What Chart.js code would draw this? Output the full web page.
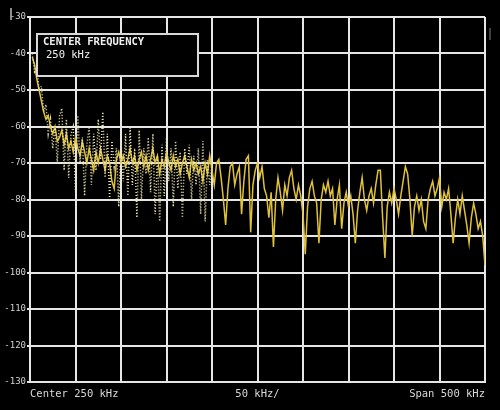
<!DOCTYPE html>
<html>
<head>
<meta charset="utf-8">
<script src="https://cdn.jsdelivr.net/npm/chart.js@4.4.1/dist/chart.umd.min.js"></script>
<style>
  html, body { margin: 0; padding: 0; background: #000; }
  #spectrum { display: block; background: #000; }
</style>
</head>
<body>
<canvas id="spectrum" width="500" height="410"></canvas>
<script>
// Frequency sampling of the traces (kHz, 0..500 across the screen)
const STEP_KHZ = 2.5;

// Live trace (solid yellow), level in dBm, one value per 2.5 kHz starting at 2.5 kHz
const traceSolid = [
    -41, -43, -47, -50, -53, -56, -58, -57, -60, -62,
    -60, -64, -63, -61, -65, -62, -66, -64, -67, -63,
    -66, -68, -64, -67, -70, -66, -69, -72, -67, -70,
    -66, -69, -72, -68, -70, -75, -77, -69, -67, -70,
    -68, -71, -69, -66, -70, -68, -72, -69, -67, -71,
    -68, -72, -69, -66, -70, -68, -73, -69, -71, -67,
    -70, -72, -68, -71, -69, -73, -70, -68, -71, -74,
    -69, -72, -70, -73, -71, -75, -70, -73, -68, -72,
    -76, -70, -69, -74, -80, -87, -77, -71, -70, -76,
    -73, -71, -84, -75, -69, -68, -89, -76, -72, -70,
    -74, -71, -77, -79, -85, -78, -93, -80, -74, -78,
    -83, -76, -79, -74, -72, -77, -80, -76, -79, -84,
    -95, -82, -77, -75, -79, -81, -92, -80, -76, -78,
    -75, -79, -77, -87, -80, -76, -88, -81, -78, -82,
    -79, -84, -92, -83, -78, -74, -80, -83, -79, -77,
    -81, -76, -72, -72, -85, -96, -82, -78, -81, -77,
    -80, -84, -79, -75, -71, -73, -80, -90, -82, -79,
    -83, -80, -86, -88, -80, -77, -75, -79, -77, -74,
    -82, -78, -80, -77, -84, -92, -85, -80, -84, -79,
    -83, -87, -92, -85, -81, -84, -88, -86, -90, -98
];

// Older sweep (dotted), only the low end of the span
const traceDotted = [
    -40, -45, -44, -50, -49, -56, -54, -62, -58, -66,
    -60, -70, -57, -55, -72, -58, -74, -62, -60, -78,
    -57, -70, -63, -79, -65, -60, -76, -62, -72, -58,
    -69, -56, -74, -62, -80, -64, -71, -66, -82, -64,
    -75, -62, -79, -60, -76, -66, -85, -61, -80, -66,
    -73, -63, -78, -62, -84, -68, -86, -65, -79, -63,
    -75, -66, -82, -64, -77, -67, -85, -66, -73, -65,
    -80, -68, -76, -66, -84, -64, -86, -69, -76, -70
];

// Axis texts
const bottomLabels = { 0: 'Center 250 kHz', 250: '50 kHz/', 500: 'Span 500 kHz' };
const infoTitle = 'CENTER FREQUENCY';
const infoValue = '250 kHz';

const toPoints = arr => arr.map((v, i) => ({ x: (i + 1) * STEP_KHZ, y: v }));

const MONO = '"DejaVu Sans Mono", "Liberation Mono", monospace';
const GRID = '#e6e6e6';

// info box and screen marks drawn over the chart
const overlay = {
    id: 'overlay',
    afterDraw(chart) {
        const ctx = chart.ctx;
        ctx.save();
        ctx.fillStyle = '#000';
        ctx.fillRect(37, 34, 161, 42);
        ctx.strokeStyle = '#d8d8d8';
        ctx.lineWidth = 2;
        ctx.strokeRect(37, 34, 161, 42);
        ctx.fillStyle = '#f0f0f0';
        ctx.textBaseline = 'middle';
        ctx.font = 'bold 10.5px ' + MONO;
        ctx.fillText(infoTitle, 43, 42);
        ctx.font = '10.5px ' + MONO;
        ctx.fillText(infoValue, 46, 55);
        // little marks at the screen edges
        ctx.strokeStyle = '#bbb';
        ctx.lineWidth = 1.5;
        ctx.beginPath();
        ctx.moveTo(11, 8); ctx.lineTo(11, 20);
        ctx.stroke();
        ctx.strokeStyle = '#555';
        ctx.beginPath();
        ctx.moveTo(490, 28); ctx.lineTo(490, 40);
        ctx.stroke();
        ctx.restore();
    }
};

new Chart(document.getElementById('spectrum'), {
    type: 'line',
    data: {
        datasets: [
            {
                label: 'Previous sweep',
                data: toPoints(traceDotted),
                borderColor: '#e8e2a8',
                borderWidth: 1.5,
                borderDash: [1, 2],
                pointRadius: 0,
                tension: 0
            },
            {
                label: 'Live trace',
                data: toPoints(traceSolid),
                borderColor: '#e0c23a',
                borderWidth: 1.5,
                pointRadius: 0,
                tension: 0
            }
        ]
    },
    options: {
        responsive: false,
        animation: false,
        layout: { padding: { top: 17, right: 15, left: 0, bottom: 0 } },
        plugins: {
            legend: { display: false },
            tooltip: { enabled: false }
        },
        scales: {
            x: {
                type: 'linear',
                min: 0,
                max: 500,
                grid: { color: GRID, lineWidth: 2, drawTicks: false },
                border: { color: GRID, width: 2 },
                ticks: {
                    stepSize: 50,
                    autoSkip: false,
                    maxRotation: 0,
                    align: 'inner',
                    padding: 6,
                    color: '#d8d8d8',
                    font: { family: MONO, size: 10.5 },
                    callback: v => bottomLabels[v] || ''
                },
                afterFit: s => { s.height = 28; }
            },
            y: {
                min: -130,
                max: -30,
                grid: { color: GRID, lineWidth: 2, tickLength: 3, tickColor: GRID },
                border: { color: GRID, width: 2 },
                ticks: {
                    stepSize: 10,
                    padding: 1,
                    color: '#d0d0d0',
                    font: { family: MONO, size: 9 }
                },
                afterFit: s => { s.width = 30; }
            }
        }
    },
    plugins: [overlay]
});
</script>
</body>
</html>
